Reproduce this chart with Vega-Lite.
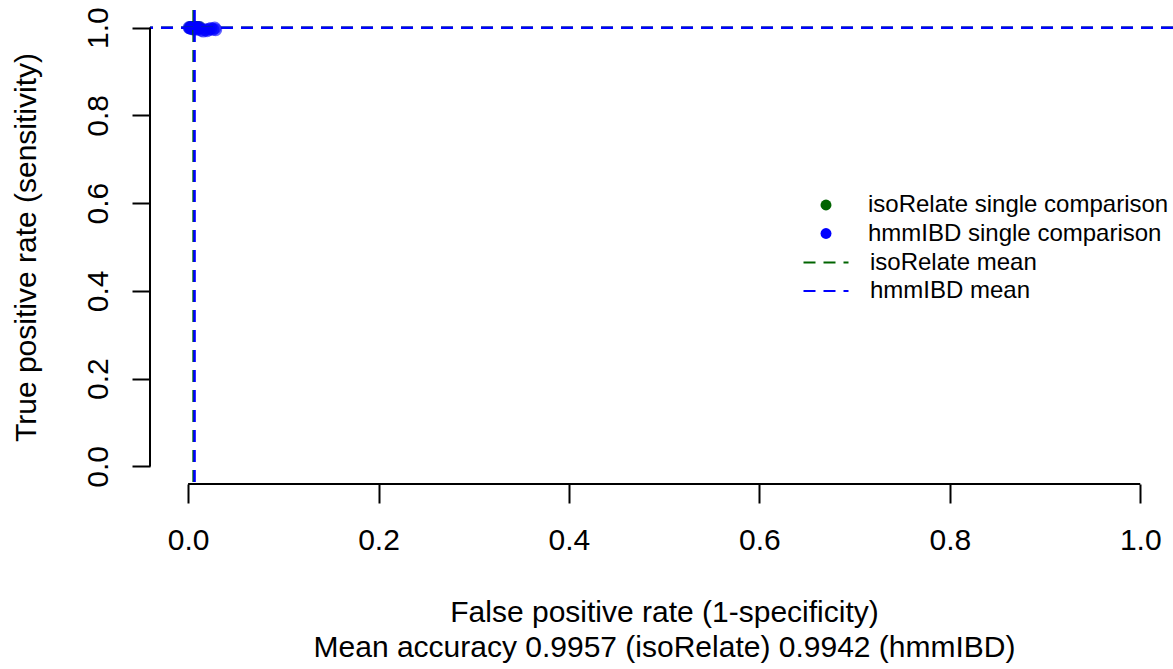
{
  "$schema": "https://vega.github.io/schema/vega-lite/v6.json",
  "width": 1023,
  "height": 474,
  "autosize": {"type": "none"},
  "padding": {"left": 150, "top": 10, "right": 0, "bottom": 185},
  "background": "white",
  "config": {
    "view": {"stroke": null},
    "font": "Liberation Sans",
    "axis": {
      "grid": false,
      "domain": false,
      "tickColor": "black",
      "tickWidth": 2,
      "labelColor": "black",
      "titleColor": "black",
      "labelFont": "Liberation Sans",
      "titleFont": "Liberation Sans",
      "titleFontWeight": "normal",
      "labelFlush": false,
      "labelOverlap": false
    },
    "legend": {
      "labelFont": "Liberation Sans",
      "labelFontSize": 24,
      "labelColor": "black",
      "labelLimit": 500,
      "padding": 0
    }
  },
  "datasets": {
    "pts": [
      {"series": "isoRelate single comparison", "fpr": 0.002, "tpr": 1.0},
      {"series": "isoRelate single comparison", "fpr": 0.003, "tpr": 1.0},
      {"series": "isoRelate single comparison", "fpr": 0.004, "tpr": 0.999},
      {"series": "isoRelate single comparison", "fpr": 0.004, "tpr": 1.0},
      {"series": "isoRelate single comparison", "fpr": 0.005, "tpr": 1.0},
      {"series": "isoRelate single comparison", "fpr": 0.005, "tpr": 0.999},
      {"series": "isoRelate single comparison", "fpr": 0.006, "tpr": 1.0},
      {"series": "isoRelate single comparison", "fpr": 0.006, "tpr": 0.998},
      {"series": "isoRelate single comparison", "fpr": 0.007, "tpr": 1.0},
      {"series": "isoRelate single comparison", "fpr": 0.008, "tpr": 0.999},
      {"series": "isoRelate single comparison", "fpr": 0.008, "tpr": 1.0},
      {"series": "isoRelate single comparison", "fpr": 0.009, "tpr": 1.0},
      {"series": "isoRelate single comparison", "fpr": 0.010, "tpr": 1.0},
      {"series": "isoRelate single comparison", "fpr": 0.011, "tpr": 0.999},
      {"series": "isoRelate single comparison", "fpr": 0.012, "tpr": 1.0},
      {"series": "hmmIBD single comparison", "fpr": 0.001, "tpr": 1.0},
      {"series": "hmmIBD single comparison", "fpr": 0.002, "tpr": 0.999},
      {"series": "hmmIBD single comparison", "fpr": 0.003, "tpr": 1.0},
      {"series": "hmmIBD single comparison", "fpr": 0.003, "tpr": 0.998},
      {"series": "hmmIBD single comparison", "fpr": 0.004, "tpr": 1.0},
      {"series": "hmmIBD single comparison", "fpr": 0.005, "tpr": 0.997},
      {"series": "hmmIBD single comparison", "fpr": 0.005, "tpr": 1.0},
      {"series": "hmmIBD single comparison", "fpr": 0.006, "tpr": 0.999},
      {"series": "hmmIBD single comparison", "fpr": 0.007, "tpr": 1.0},
      {"series": "hmmIBD single comparison", "fpr": 0.008, "tpr": 0.998},
      {"series": "hmmIBD single comparison", "fpr": 0.009, "tpr": 1.0},
      {"series": "hmmIBD single comparison", "fpr": 0.010, "tpr": 0.996},
      {"series": "hmmIBD single comparison", "fpr": 0.011, "tpr": 0.999},
      {"series": "hmmIBD single comparison", "fpr": 0.012, "tpr": 1.0},
      {"series": "hmmIBD single comparison", "fpr": 0.014, "tpr": 0.994},
      {"series": "hmmIBD single comparison", "fpr": 0.016, "tpr": 0.992},
      {"series": "hmmIBD single comparison", "fpr": 0.018, "tpr": 0.995},
      {"series": "hmmIBD single comparison", "fpr": 0.020, "tpr": 0.993},
      {"series": "hmmIBD single comparison", "fpr": 0.022, "tpr": 0.996},
      {"series": "hmmIBD single comparison", "fpr": 0.024, "tpr": 0.998},
      {"series": "hmmIBD single comparison", "fpr": 0.026, "tpr": 0.996},
      {"series": "hmmIBD single comparison", "fpr": 0.028, "tpr": 0.999},
      {"series": "hmmIBD single comparison", "fpr": 0.029, "tpr": 0.995}
    ],
    "means": [
      {"series": "isoRelate mean", "fpr": 0.0058, "tpr": 0.9993},
      {"series": "hmmIBD mean", "fpr": 0.0068, "tpr": 0.9997}
    ]
  },
  "layer": [
    {
      "data": {"name": "pts"},
      "mark": {"type": "circle", "size": 170, "opacity": 0.6},
      "encoding": {
        "x": {
          "field": "fpr",
          "type": "quantitative",
          "scale": {"domain": [-0.04, 1.0344], "nice": false, "zero": false},
          "axis": {
            "values": [0, 0.2, 0.4, 0.6, 0.8, 1],
            "format": ".1f",
            "tickSize": 19,
            "labelFontSize": 30,
            "labelBaseline": "alphabetic",
            "labelPadding": 46,
            "title": ["False positive rate (1-specificity)", "Mean accuracy 0.9957 (isoRelate) 0.9942 (hmmIBD)"],
            "titleFontSize": 30,
            "titleLineHeight": 35,
            "titleX": 514,
            "titleY": 137,
            "titleAlign": "center",
            "titleBaseline": "alphabetic"
          }
        },
        "y": {
          "field": "tpr",
          "type": "quantitative",
          "scale": {"domain": [-0.04, 1.04], "nice": false, "zero": false},
          "axis": {
            "values": [0, 0.2, 0.4, 0.6, 0.8, 1],
            "format": ".1f",
            "tickSize": 18,
            "labelAngle": -90,
            "labelAlign": "center",
            "labelBaseline": "alphabetic",
            "labelPadding": 25,
            "labelFontSize": 30,
            "title": "True positive rate (sensitivity)",
            "titleFontSize": 30,
            "titleAngle": -90,
            "titleX": -115,
            "titleY": 237,
            "titleAlign": "center",
            "titleBaseline": "alphabetic"
          }
        },
        "fill": {
          "field": "series",
          "type": "nominal",
          "scale": {
            "domain": ["isoRelate single comparison", "hmmIBD single comparison"],
            "range": ["#006400", "#0000ff"]
          },
          "legend": {
            "title": null,
            "orient": "none",
            "legendX": 664,
            "legendY": 183,
            "labelOffset": 30,
            "rowPadding": 4.5,
            "symbolType": "circle",
            "symbolSize": 120,
            "symbolStrokeWidth": 0,
            "symbolOpacity": 1
          }
        }
      }
    },
    {
      "data": {"name": "means"},
      "mark": {"type": "rule", "strokeDash": [12, 8], "strokeWidth": 2.5},
      "encoding": {
        "x": {"field": "fpr", "type": "quantitative"},
        "stroke": {
          "field": "series",
          "type": "nominal",
          "scale": {
            "domain": ["isoRelate mean", "hmmIBD mean"],
            "range": ["#006400", "#0000ff"]
          },
          "legend": {
            "title": null,
            "orient": "none",
            "legendX": 664,
            "legendY": 240.5,
            "labelOffset": 32,
            "rowPadding": 4.5,
            "symbolType": "M-4.5,0H4.5",
            "symbolSize": 100,
            "symbolStrokeWidth": 2.2,
            "symbolDash": [12, 8],
            "symbolDashOffset": 0,
            "symbolFillColor": "transparent",
            "symbolOpacity": 1
          }
        }
      }
    },
    {
      "data": {"name": "means"},
      "mark": {"type": "rule", "strokeDash": [12, 8], "strokeWidth": 2.5},
      "encoding": {
        "y": {"field": "tpr", "type": "quantitative"},
        "stroke": {"field": "series", "type": "nominal"}
      }
    },
    {
      "data": {"values": [{}]},
      "mark": {"type": "rule", "color": "black", "strokeWidth": 2},
      "encoding": {
        "x": {"datum": 0, "type": "quantitative"},
        "x2": {"datum": 1},
        "y": {"datum": -0.04, "type": "quantitative"}
      }
    },
    {
      "data": {"values": [{}]},
      "mark": {"type": "rule", "color": "black", "strokeWidth": 2},
      "encoding": {
        "y": {"datum": 0, "type": "quantitative"},
        "y2": {"datum": 1},
        "x": {"datum": -0.04, "type": "quantitative"}
      }
    }
  ]
}
